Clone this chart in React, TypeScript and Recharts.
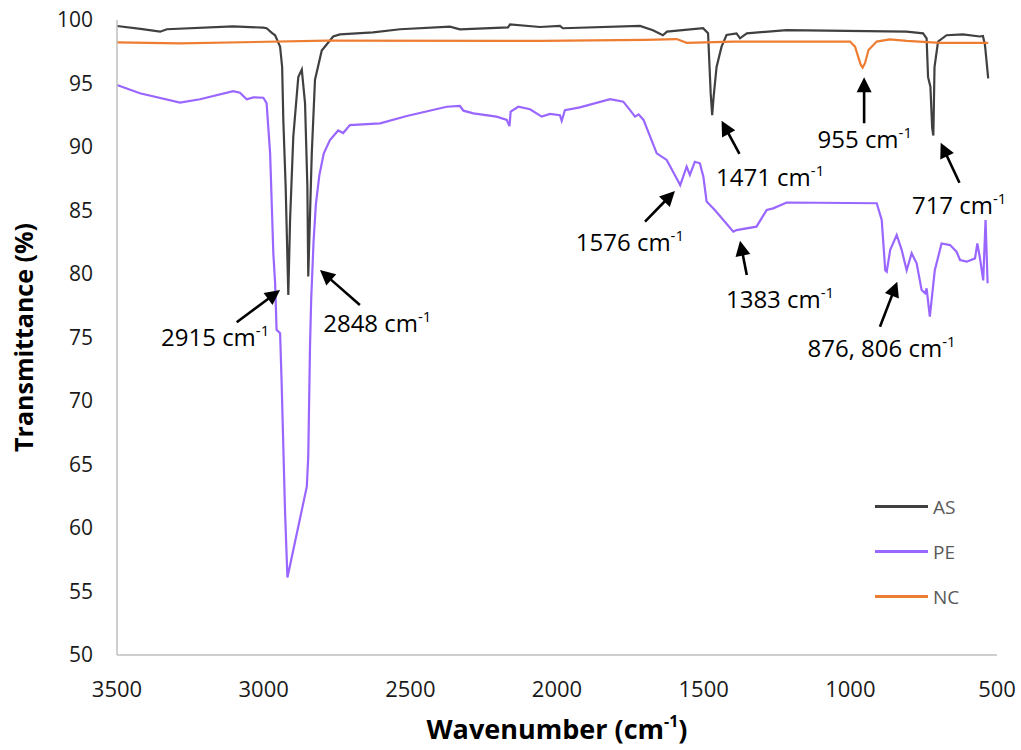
import React from 'react';
import { LineChart, Line, XAxis, YAxis, Legend, ReferenceLine, ReferenceDot, Label } from 'recharts';

const xTicks = [3500, 3000, 2500, 2000, 1500, 1000, 500];
const yTicks = [50, 55, 60, 65, 70, 75, 80, 85, 90, 95, 100];

// [wavenumber, transmittance]
const asSpectrum: [number, number][] = [
  [3500, 99.53], [3420, 99.3], [3353, 99.08], [3330, 99.27], [3105, 99.5], [3002, 99.4],
  [2990, 99.35], [2971, 98.97], [2961, 98.8], [2944, 97.9], [2937, 96.3], [2933, 92.1],
  [2925, 86.85], [2916, 78.35], [2910, 84.25], [2899, 90.8], [2882, 95.5], [2870, 96.1],
  [2859, 93.46], [2851, 86.9], [2848, 79.8], [2836, 89.5], [2825, 95.3], [2802, 97.6],
  [2763, 98.7], [2740, 98.87], [2627, 99.03], [2535, 99.27], [2365, 99.47], [2331, 99.27],
  [2167, 99.42], [2160, 99.66], [2058, 99.45], [1990, 99.53], [1980, 99.35], [1717, 99.53],
  [1673, 99.2], [1639, 98.8], [1625, 99.08], [1502, 99.35], [1485, 98.95], [1476, 94.2],
  [1471, 92.5], [1466, 93.96], [1456, 96.3], [1439, 97.9], [1422, 98.82], [1388, 98.95],
  [1376, 98.56], [1353, 98.95], [1217, 99.2], [808, 99.08], [752, 98.95], [740, 98.56],
  [735, 95.5], [727, 94.75], [721, 91.5], [717, 90.9], [713, 96.3], [701, 98.3],
  [672, 98.8], [616, 98.87], [559, 98.7], [548, 98.74], [541, 98.03], [530, 95.4],
];

const peSpectrum: [number, number][] = [
  [3500, 94.88], [3422, 94.23], [3285, 93.49], [3217, 93.76], [3104, 94.4], [3081, 94.28],
  [3058, 93.76], [3035, 93.91], [3001, 93.88], [2990, 93.46], [2978, 89.5], [2967, 81.6],
  [2961, 79.3], [2956, 75.6], [2944, 75.33], [2939, 71.65], [2927, 61.2], [2919, 56.1],
  [2853, 63.25], [2848, 65.6], [2842, 74.3], [2838, 78.0], [2830, 82.5], [2822, 85.5],
  [2810, 87.8], [2795, 89.5], [2774, 90.55], [2746, 91.3], [2729, 91.1], [2706, 91.73],
  [2603, 91.86], [2512, 92.44], [2376, 93.17], [2331, 93.23], [2319, 92.86], [2285, 92.65],
  [2206, 92.39], [2171, 92.13], [2162, 91.65], [2158, 92.78], [2132, 93.17], [2092, 92.97],
  [2052, 92.39], [2024, 92.6], [1990, 92.5], [1984, 92.07], [1973, 92.9], [1922, 93.12],
  [1819, 93.76], [1774, 93.57], [1751, 92.9], [1734, 92.39], [1722, 92.57], [1705, 92.13],
  [1660, 89.5], [1626, 88.98], [1586, 87.27], [1580, 87.0], [1558, 88.45], [1547, 87.8],
  [1530, 88.84], [1513, 88.72], [1501, 87.66], [1490, 85.7], [1462, 85.04], [1399, 83.33],
  [1388, 83.46], [1320, 83.73], [1285, 85.04], [1263, 85.17], [1217, 85.63], [910, 85.57],
  [893, 84.25], [881, 80.3], [876, 80.18], [864, 81.9], [842, 83.07], [825, 81.9],
  [808, 80.3], [791, 81.63], [774, 80.84], [757, 78.74], [745, 78.48], [740, 78.87],
  [729, 76.64], [712, 80.3], [689, 82.4], [660, 82.28], [638, 81.76], [626, 81.1],
  [603, 80.97], [575, 81.23], [567, 82.4], [558, 81.23], [547, 79.5], [539, 84.25], [532, 79.27],
];

const ncSpectrum: [number, number][] = [
  [3500, 98.24], [3285, 98.16], [2785, 98.37], [2058, 98.35], [1700, 98.43], [1592, 98.5],
  [1558, 98.2], [1400, 98.3], [1001, 98.3], [984, 97.9], [965, 96.5], [958, 96.25],
  [950, 96.6], [938, 97.64], [910, 98.3], [865, 98.48], [808, 98.35], [694, 98.2], [530, 98.2],
];

const toRows = (pts: [number, number][]) => pts.map(([wn, t]) => ({ wn, t }));

const series = [
  { name: 'AS', color: '#404040', data: toRows(asSpectrum) },
  { name: 'PE', color: '#9966ff', data: toRows(peSpectrum) },
  { name: 'NC', color: '#ed7d31', data: toRows(ncSpectrum) },
];

// peak callouts: arrow tail -> head, text anchored at its left baseline
const peaks = [
  { text: '2915', tail: [3092, 76.2], head: [2944, 78.74], at: [3350, 74.3] },
  { text: '2848', tail: [2672, 77.56], head: [2808, 80.31], at: [2797, 75.4] },
  { text: '1576', tail: [1700, 84.12], head: [1598, 86.54], at: [1936, 81.85] },
  { text: '1471', tail: [1378, 89.45], head: [1439, 92.07], at: [1458, 86.95] },
  { text: '1383', tail: [1353, 79.92], head: [1376, 82.62], at: [1424, 77.3] },
  { text: '955', tail: [953, 91.87], head: [953, 95.49], at: [1112, 89.95] },
  { text: '876, 806', tail: [899, 75.85], head: [840, 79.39], at: [1146, 73.5] },
  { text: '717', tail: [628, 87.19], head: [692, 90.34], at: [790, 84.75] },
];

const FONT = '"Open Sans", sans-serif';

function Arrow(props: any) {
  const { x1, y1, x2, y2 } = props;
  const dx = x2 - x1;
  const dy = y2 - y1;
  const len = Math.hypot(dx, dy) || 1;
  const ux = dx / len;
  const uy = dy / len;
  const head = 15;
  const half = 7.5;
  const bx = x2 - ux * head;
  const by = y2 - uy * head;
  const px = -uy * half;
  const py = ux * half;
  return (
    <g>
      <line x1={x1} y1={y1} x2={bx + ux * 2} y2={by + uy * 2} stroke="#000" strokeWidth={2.6} />
      <polygon points={`${x2},${y2} ${bx + px},${by + py} ${bx - px},${by - py}`} fill="#000" />
    </g>
  );
}

function PeakText({ cx, cy, text }: any) {
  return (
    <text x={cx} y={cy} fontFamily={FONT} fontSize={24} fill="#000">
      {text} cm<tspan dy={-10} fontSize={15}>-1</tspan>
    </text>
  );
}

function LegendBox() {
  return (
    <div style={{ fontFamily: FONT }}>
      {series.map((s) => (
        <div key={s.name} style={{ height: 45, display: 'flex', alignItems: 'center' }}>
          <div style={{ width: 53, height: 3, background: s.color }} />
          <span style={{ marginLeft: 5, fontSize: 19, color: '#595959' }}>{s.name}</span>
        </div>
      ))}
    </div>
  );
}

export default function App() {
  return (
    <div style={{ position: 'absolute', left: 0, top: 0, background: '#fff' }}>
      <LineChart width={1021} height={750} margin={{ top: 20, right: 24, bottom: 65, left: 57 }}>
        <XAxis
          dataKey="wn"
          type="number"
          domain={[500, 3500]}
          reversed
          ticks={xTicks}
          interval={0}
          tickLine={false}
          tickSize={0}
          tickMargin={26}
          height={30}
          axisLine={{ stroke: '#bfbfbf', strokeWidth: 1.5 }}
          tick={{ fill: '#1a1a1a', fontSize: 22, fontFamily: FONT }}
        >
          <Label
            content={({ viewBox }: any) => (
              <text
                x={viewBox.x + viewBox.width / 2}
                y={739}
                textAnchor="middle"
                fontFamily={FONT}
                fontWeight={700}
                fontSize={27}
                fill="#000"
              >
                Wavenumber (cm<tspan dy={-12} fontSize={16}>-1</tspan>
                <tspan dy={12}>)</tspan>
              </text>
            )}
          />
        </XAxis>
        <YAxis
          type="number"
          domain={[50, 100]}
          ticks={yTicks}
          interval={0}
          width={60}
          tickLine={false}
          tickSize={0}
          tickMargin={24}
          axisLine={{ stroke: '#bfbfbf', strokeWidth: 1.5 }}
          tick={{ fill: '#1a1a1a', fontSize: 21, fontFamily: FONT }}
        >
          <Label
            content={({ viewBox }: any) => {
              const cx = 33;
              const cy = viewBox.y + viewBox.height / 2;
              return (
                <text
                  x={cx}
                  y={cy}
                  transform={`rotate(-90, ${cx}, ${cy})`}
                  textAnchor="middle"
                  fontFamily={FONT}
                  fontWeight={700}
                  fontSize={25}
                  fill="#000"
                >
                  Transmittance (%)
                </text>
              );
            }}
          />
        </YAxis>
        <Legend
          layout="vertical"
          align="center"
          verticalAlign="middle"
          wrapperStyle={{ left: 875, top: 484, width: 100 }}
          content={() => <LegendBox />}
        />
        {series.map((s) => (
          <Line
            key={s.name}
            data={s.data}
            dataKey="t"
            name={s.name}
            type="linear"
            stroke={s.color}
            strokeWidth={2.2}
            dot={false}
            activeDot={false}
            isAnimationActive={false}
          />
        ))}
        {peaks.map((p) => (
          <ReferenceLine
            key={`arrow-${p.text}`}
            segment={[{ x: p.tail[0], y: p.tail[1] }, { x: p.head[0], y: p.head[1] }]}
            ifOverflow="visible"
            shape={(props: any) => <Arrow {...props} />}
          />
        ))}
        {peaks.map((p) => (
          <ReferenceDot
            key={`text-${p.text}`}
            x={p.at[0]}
            y={p.at[1]}
            r={0}
            ifOverflow="visible"
            shape={(props: any) => <PeakText {...props} text={p.text} />}
          />
        ))}
      </LineChart>
    </div>
  );
}
